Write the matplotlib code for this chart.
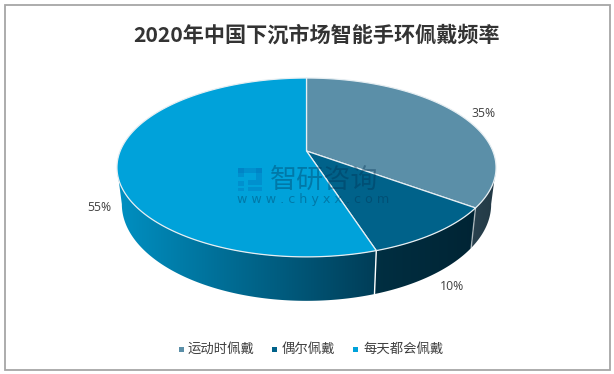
import numpy as np
import matplotlib
matplotlib.use("Agg")
import matplotlib.pyplot as plt
from matplotlib.patches import Polygon, Rectangle
from matplotlib.colors import LinearSegmentedColormap

plt.rcParams['font.family'] = ['Noto Sans CJK SC', 'DejaVu Sans']

title = "2020年中国下沉市场智能手环佩戴频率"
categories = ["运动时佩戴", "偶尔佩戴", "每天都会佩戴"]
values = [35, 10, 55]
labels = ["35%", "10%", "55%"]
top_colors = ["#5B8FA8", "#00628A", "#00A2DA"]
side_colors = [("#2A424F", "#223945"), ("#002F42", "#002434"), ("#0090C2", "#013D57")]
text_color = "#404040"

W, H = 614, 374
fig = plt.figure(figsize=(W / 100, H / 100), dpi=100)
ax = fig.add_axes([0, 0, 1, 1])
ax.set_xlim(0, W)
ax.set_ylim(H, 0)
ax.axis("off")

ax.add_patch(Rectangle((4.5, 4.5), 605, 365.5, fill=False, ec="#A6A6A6", lw=1.3))


def project(theta_deg, cx, cy, a, b, k=0.184):
    t = np.radians(theta_deg)
    X, Y = np.sin(t), -np.cos(t)
    d = 1 - k * Y
    return cx + a * X / d, cy + b * Y / d


def top_rim(t):
    return project(t, 306.5, 151, 186.3, 86.4)


def bot_rim(t):
    return project(t, 306.5, 186.5, 181.5, 93.3)


def tangent_angles(rim):
    """Angles of the right-most and left-most rim points (the visible silhouette)."""
    grid = np.linspace(0, 360, 1441)
    gx, _ = rim(grid)
    return grid[np.argmax(gx)], grid[np.argmin(gx)]


edges = np.concatenate([[0], np.cumsum(values)]) / np.sum(values) * 360
top_r, top_l = tangent_angles(top_rim)
bot_r, bot_l = tangent_angles(bot_rim)

# side faces
for i in range(3):
    ts, te = max(edges[i], top_r), min(edges[i + 1], top_l)
    bs, be = max(edges[i], bot_r), min(edges[i + 1], bot_l)
    if te <= ts:
        continue
    xt, yt = top_rim(np.linspace(ts, te, 120))
    xb, yb = bot_rim(np.linspace(bs, be, 120))
    pts = np.column_stack([np.r_[xt, xb[::-1]], np.r_[yt, yb[::-1]]])
    poly = Polygon(pts, closed=True, fc="none", ec="none")
    ax.add_patch(poly)
    cmap = LinearSegmentedColormap.from_list("g", side_colors[i])
    x0, x1 = pts[:, 0].min(), pts[:, 0].max()
    y0, y1 = pts[:, 1].min(), pts[:, 1].max()
    grad = np.linspace(0, 1, 256).reshape(1, -1)
    im = ax.imshow(grad, extent=[x0, x1, y1, y0], cmap=cmap, aspect="auto",
                   zorder=2, interpolation="bilinear")
    im.set_clip_path(poly)

ax.set_xlim(0, W)
ax.set_ylim(H, 0)

# side separators
for th, alpha in [(edges[1], 0.55), (edges[2], 1.0)]:
    xa, ya = top_rim(th)
    xb, yb = bot_rim(th)
    ax.plot([xa, xb], [ya, yb], color="white", lw=1.0, alpha=alpha, zorder=3)

# top faces
for i in range(3):
    t = np.linspace(edges[i], edges[i + 1], 240)
    xt, yt = top_rim(t)
    pts = np.column_stack([np.r_[306.5, xt], np.r_[151, yt]])
    ax.add_patch(Polygon(pts, closed=True, fc=top_colors[i], ec="#E6EEF2", lw=0.9,
                         joinstyle="round", zorder=4))

# data labels
for lab, (x, y) in zip(labels, [(483, 113), (452, 286), (99, 207)]):
    ax.text(x, y, lab, ha="center", va="center", fontsize=8.8, color=text_color,
            family=["Open Sans", "DejaVu Sans"], zorder=6)

# title
ax.text(316.5, 35.5, title, ha="center", va="center", fontsize=15.2, fontweight="bold",
        color="#333333", zorder=6)

# legend
for cat, col, mx, tx in zip(categories, top_colors, [181, 274, 355], [188, 282, 363]):
    ax.add_patch(Rectangle((mx - 2.5, 346.5), 5, 5, fc=col, ec="none"))
    ax.text(tx, 348.5, cat, ha="left", va="center", fontsize=9.6, color=text_color)

# watermark
wm = "#003050"
ax.text(270, 180, "智研咨询", ha="left", va="center", fontsize=19.5, color=wm, alpha=0.36,
        zorder=5)
ax.text(237, 199, "w w w . c h y x x . c o m", ha="left", va="center", fontsize=9.2,
        color=wm, alpha=0.36, zorder=5, family=["DejaVu Sans"])
for (x, y, w, h) in [(238, 168, 24, 5), (238, 168, 6, 9), (256, 168, 6, 12), (248, 180, 14, 5),
                     (238, 181, 6, 5), (238, 188, 6, 3), (248, 187, 14, 4)]:
    ax.add_patch(Rectangle((x, y), w, h, fc="#0070B8", ec="none", alpha=0.35, zorder=5))

fig.savefig("out.png", dpi=100)
